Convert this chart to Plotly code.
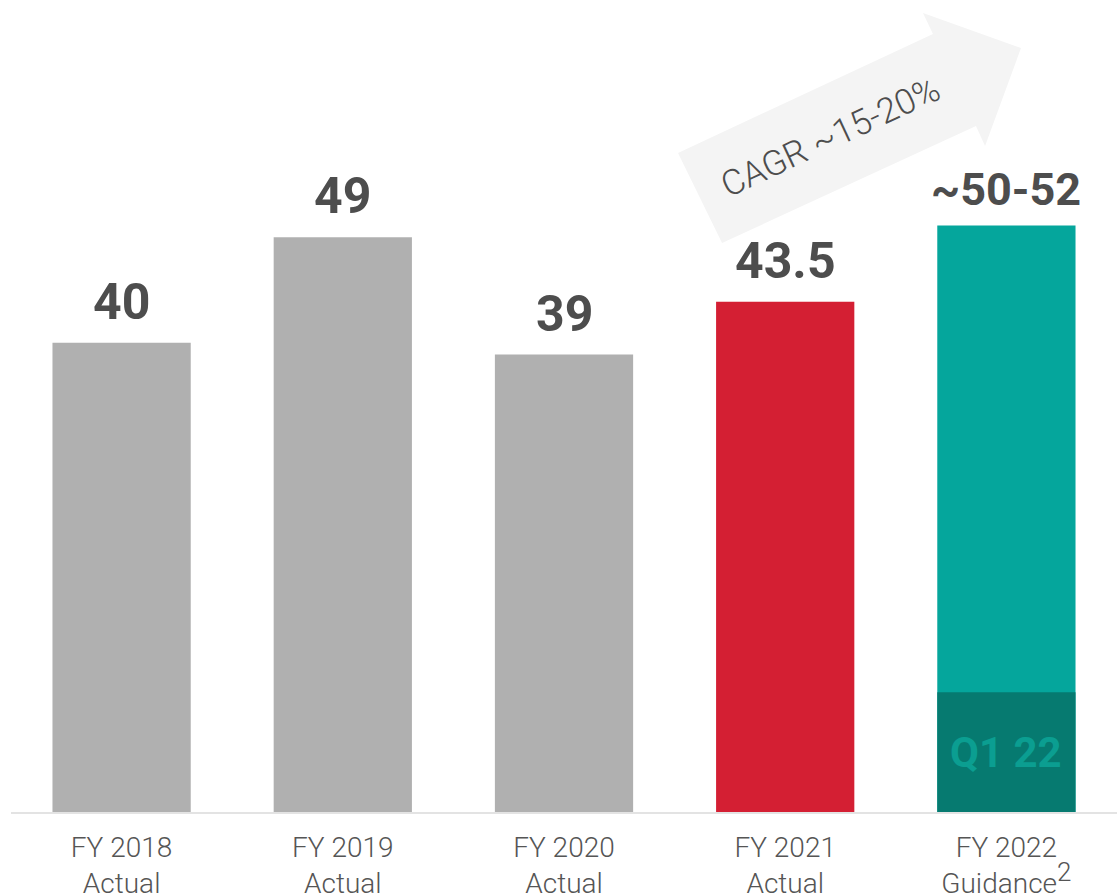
import plotly.graph_objects as go

categories = ["FY 2018<br>Actual", "FY 2019<br>Actual", "FY 2020<br>Actual",
              "FY 2021<br>Actual", "FY 2022<br>Guidance<sup><span style=\"font-size:26px\">2</span></sup>"]
values = [40, 49, 39, 43.5, 50]
value_labels = ["40", "49", "39", "43.5", "~50-52"]
q1_value = 10.2
q1_label = "Q1 22"
cagr_label = "CAGR ~15-20%"

bar_colors = ["#b0b0b0", "#b0b0b0", "#b0b0b0", "#d41f33", "#05a69c"]
label_shift = [10, 10, 10, 10, 8]
label_size = [50, 50, 50, 50, 45]

W, H = 1117, 894
ML, MR, MT, MB = 11, 0, 0, 82
PX_PER_UNIT = 11.73
y_max = (H - MT - MB) / PX_PER_UNIT

fig = go.Figure()
fig.add_trace(go.Bar(x=categories, y=values, marker=dict(color=bar_colors, line=dict(width=0)),
                     width=0.625, hoverinfo="skip"))
fig.add_trace(go.Bar(x=[categories[4]], y=[q1_value], marker=dict(color="#067a70", line=dict(width=0)),
                     width=0.625, hoverinfo="skip"))

for c, v, t, s, fs in zip(categories, values, value_labels, label_shift, label_size):
    fig.add_annotation(x=c, y=v, text=t, showarrow=False, yanchor="bottom", yshift=s,
                       font=dict(family="Roboto", size=fs, color="#4d4d4d", weight=700))

fig.add_annotation(x=categories[4], y=q1_value / 2, text=q1_label, showarrow=False,
                   font=dict(family="Roboto", size=42, color="#0b9e91", weight=700))

# arrow (pixel coordinates converted to paper)
pw = W - ML - MR
ph = H - MT - MB
pts = [(678, 153), (722, 243), (976, 126), (985, 146), (1021, 48), (923, 13), (933, 34)]
def px2paper(p):
    return ((p[0] - ML) / pw, (MT + ph - p[1]) / ph)
pp = [px2paper(p) for p in pts]
path = "M " + " L ".join(f"{x:.4f},{y:.4f}" for x, y in pp) + " Z"
fig.add_shape(type="path", path=path, xref="paper", yref="paper",
              fillcolor="#f4f4f4", line=dict(width=0), layer="below")
cx, cy = px2paper((830, 137))
fig.add_annotation(x=cx, y=cy, xref="paper", yref="paper", text=cagr_label, showarrow=False,
                   xanchor="center", yanchor="middle",
                   textangle=-25, font=dict(family="Roboto", size=35, color="#4d4d4d", weight=300))

fig.update_layout(
    width=W, height=H, margin=dict(l=ML, r=MR, t=MT, b=MB, autoexpand=False),
    barmode="overlay", showlegend=False,
    paper_bgcolor="white", plot_bgcolor="white",
    xaxis=dict(showline=True, linecolor="#e3e3e3", linewidth=2, showgrid=False, ticks="",
               ticklabelstandoff=9, automargin=False,
               tickfont=dict(family="Roboto", size=28, color="#555555", weight=300),
               fixedrange=True),
    yaxis=dict(range=[0, y_max], visible=False, fixedrange=True, automargin=False),
)
fig.write_html("out.html", config={"displayModeBar": False})
